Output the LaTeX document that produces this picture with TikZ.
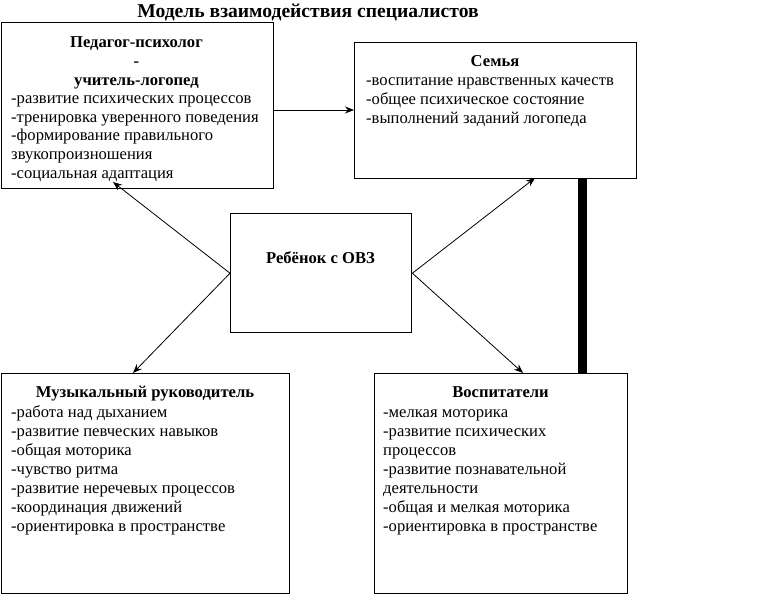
\documentclass[tikz,border=0pt]{standalone}
\usepackage{fontspec}
\setmainfont{Liberation Serif}
\usetikzlibrary{arrows.meta}
\tikzset{
  box/.style={draw=black, line width=1.4pt, fill=none, anchor=north west, inner sep=0pt},
  body/.style={anchor=base west, align=left, inner sep=0pt, font=\fontsize{16.6}{18.6}\selectfont},
  bodyb/.style={anchor=base west, align=left, inner sep=0pt, font=\fontsize{16.6}{19}\selectfont},
  head/.style={anchor=base, align=center, inner sep=0pt, font=\fontsize{16.6}{18.6}\selectfont\bfseries},
  arr/.style={draw=black, line width=0.8pt, -{Stealth[length=9pt,width=7pt]}},
  bar/.style={draw=black, line width=9pt}
}
\begin{document}
\begin{tikzpicture}[x=1pt,y=-1pt]
\useasboundingbox (0,0) rectangle (767,599);
% title
\node[anchor=base, inner sep=0pt, font=\fontsize{19.6}{22}\selectfont\bfseries] (title) at (308,18) {Модель взаимодействия специалистов};
% boxes
\node[box, minimum width=272pt, minimum height=166pt] (ped) at (1,22) {};
\node[box, minimum width=282pt, minimum height=136pt] (family) at (354,42) {};
\node[box, minimum width=181pt, minimum height=119pt] (child) at (230,213) {};
\node[box, minimum width=288pt, minimum height=220pt] (music) at (1,373) {};
\node[box, minimum width=253pt, minimum height=220pt] (vosp) at (374,373) {};
% texts (multi-line nodes are placed by the baseline of their last line)
\node[head] (pedhead) at (136.5,85.2) {Педагог-психолог\\-\\учитель-логопед};
\node[body] (pedtxt) at (11,178) {-развитие психических процессов\\-тренировка уверенного поведения\\-формирование правильного\\звукопроизношения\\-социальная адаптация};
\node[head] (famhead) at (495,67) {Семья};
\node[body] (famtxt) at (366,123.2) {-воспитание нравственных качеств\\-общее психическое состояние\\-выполнений заданий логопеда};
\node[head] (childtxt) at (320.5,263) {Ребёнок с ОВЗ};
\node[head] (mushead) at (145,397) {Музыкальный руководитель};
\node[bodyb] (mustxt) at (11,531) {-работа над дыханием\\-развитие певческих навыков\\-общая моторика\\-чувство ритма\\-развитие неречевых процессов\\-координация движений\\-ориентировка в пространстве};
\node[head] (voshead) at (500.5,397) {Воспитатели};
\node[bodyb] (vostxt) at (383,531) {-мелкая моторика\\-развитие психических\\процессов\\-развитие познавательной\\деятельности\\-общая и мелкая моторика\\-ориентировка в пространстве};
% connectors
\coordinate (arrowy) at (0,110);
\draw[arr] (ped.east |- arrowy) -- (family.west |- arrowy);
\coordinate (tped) at (113,182);
\coordinate (tfam) at (535,178);
\coordinate (tmus) at (133,373);
\coordinate (tvos) at (523,373);
\draw[arr] (child.west) -- (tped);
\draw[arr] (child.west) -- (tmus);
\draw[arr] (child.east) -- (tfam);
\draw[arr] (child.east) -- (tvos);
\coordinate (barx) at (582.5,0);
\draw[bar] (barx |- family.south) -- (barx |- vosp.north);
\end{tikzpicture}
\end{document}
